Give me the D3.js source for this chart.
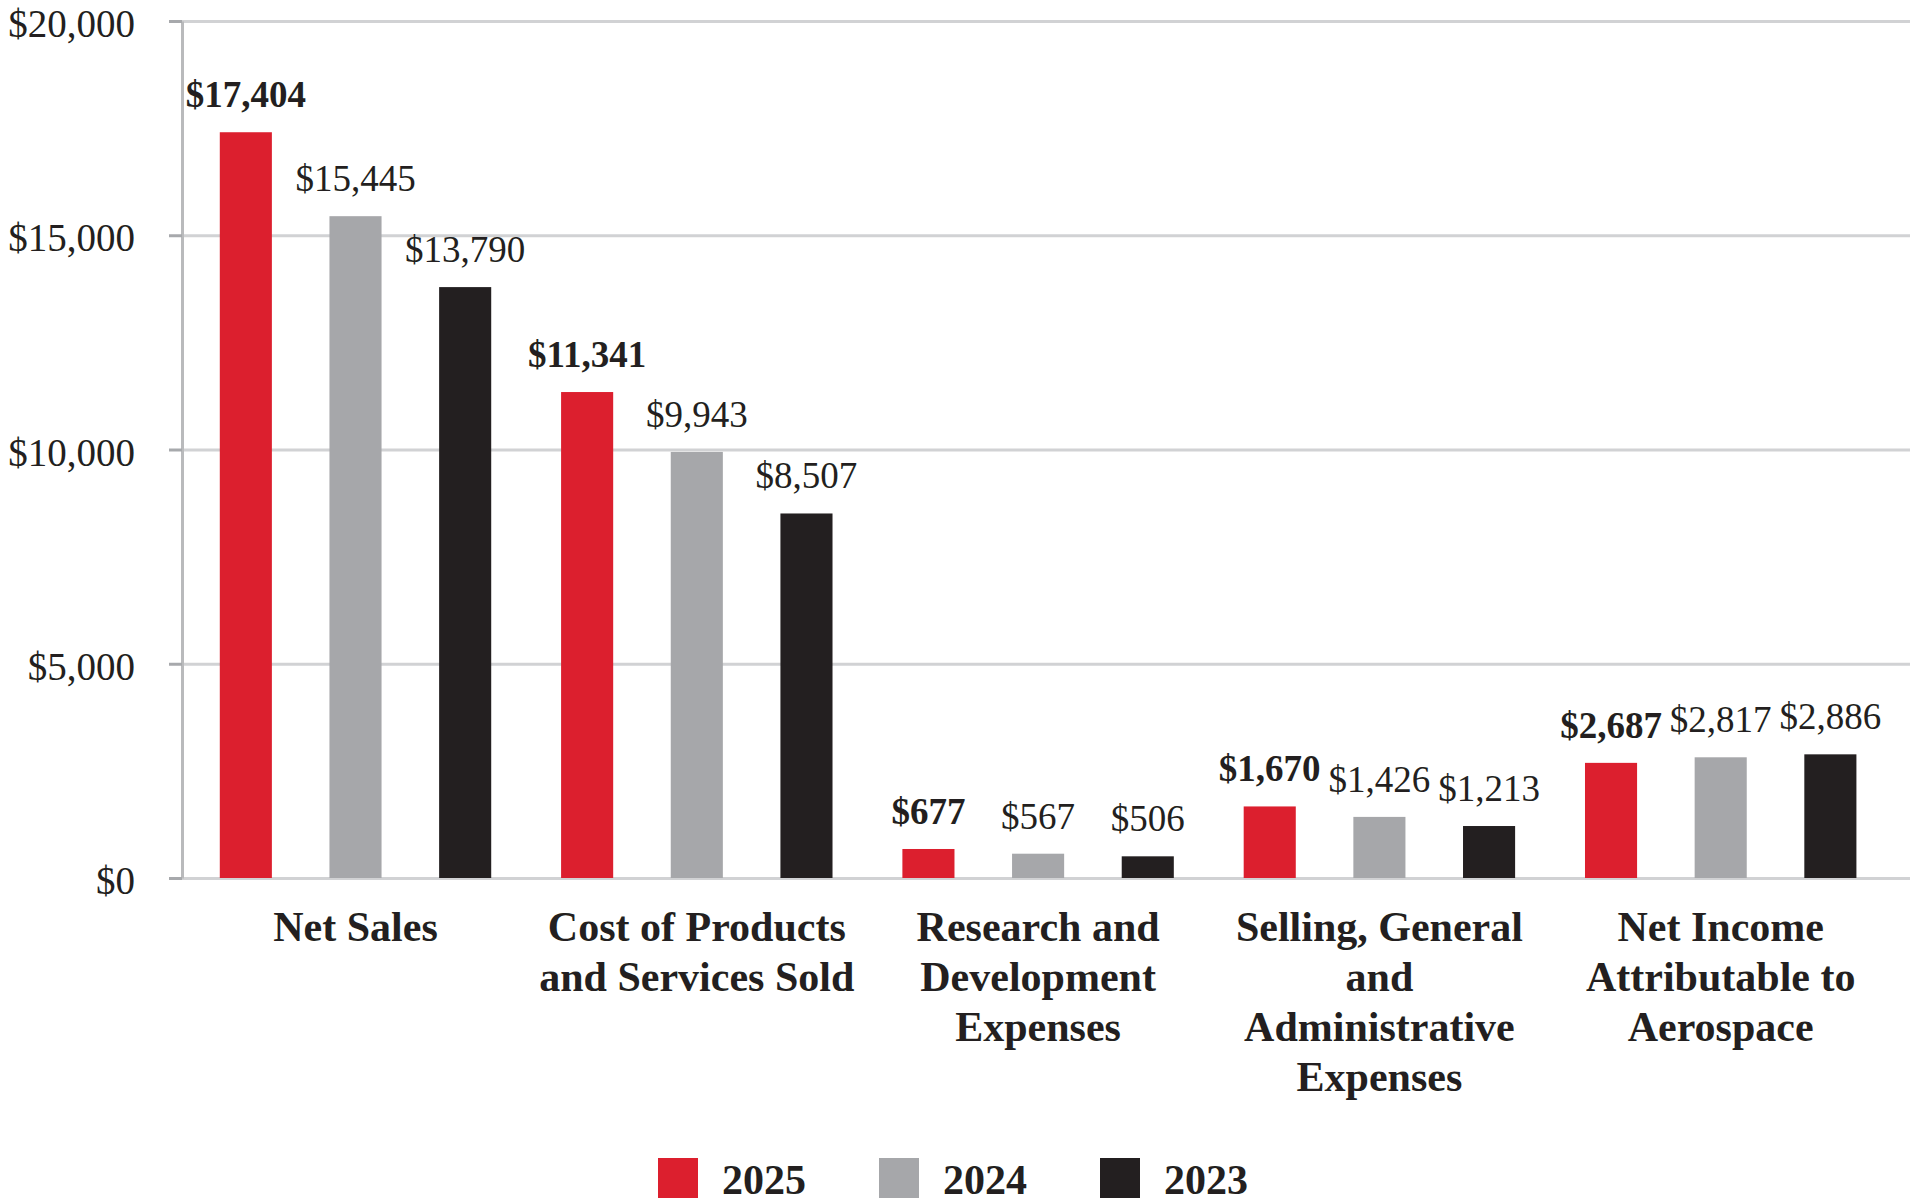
<!DOCTYPE html>
<html>
<head>
<meta charset="utf-8">
<script src="https://cdn.jsdelivr.net/npm/d3@7"></script>
<style>
	body { margin: 0; background: #fff; }
	svg { display: block; }
	text { font-family: "Liberation Serif", "Times New Roman", serif; fill: #231f20; }
</style>
</head>
<body>
<svg id="chart" width="1910" height="1202"></svg>
<script>
// chart data
const categories = ["Net Sales", "Cost of Products and Services Sold", "Research and Development Expenses", "Selling, General and Administrative Expenses", "Net Income Attributable to Aerospace"];
const categoryLines = [
	["Net Sales"],
	["Cost of Products", "and Services Sold"],
	["Research and", "Development", "Expenses"],
	["Selling, General", "and", "Administrative", "Expenses"],
	["Net Income", "Attributable to", "Aerospace"]
];
const years = ["2025", "2024", "2023"];
const values2025 = [17404, 11341, 677, 1670, 2687];
const values2024 = [15445, 9943, 567, 1426, 2817];
const values2023 = [13790, 8507, 506, 1213, 2886];
const yTicks = [0, 5000, 10000, 15000, 20000];

const colors = { "2025": "#dc1f2e", "2024": "#a6a7aa", "2023": "#231f20" };
const seriesValues = { "2025": values2025, "2024": values2024, "2023": values2023 };

const svg = d3.select("#chart");
const width = 1910;
const axisX = 182;

const x0 = d3.scaleBand().domain(categories).range([axisX, axisX + 5 * 341.3]).padding(0);
const x1 = d3.scaleBand().domain(years).range([9, 338]).paddingInner(0.525).paddingOuter(0.2625);
const y = d3.scaleLinear().domain([0, 20000]).range([878, 21]);

// gridlines
const grid = svg.append("g")
	.attr("transform", `translate(${axisX},0)`)
	.call(d3.axisLeft(y).tickValues(yTicks).tickSize(-(width - axisX)).tickFormat(""));
grid.select(".domain").remove();
grid.selectAll(".tick line").attr("stroke", "#d1d2d4").attr("stroke-width", 3);

// y axis
const yAxis = svg.append("g")
	.attr("transform", `translate(${axisX},0)`)
	.call(d3.axisLeft(y).tickValues(yTicks).tickSize(13).tickSizeOuter(0).tickPadding(34).tickFormat(d3.format("$,")));
yAxis.select(".domain").attr("stroke", "#b9babc").attr("stroke-width", 3);
yAxis.selectAll(".tick line").attr("stroke", "#a7a9ac").attr("stroke-width", 3);
yAxis.selectAll(".tick text")
	.attr("dy", "0.4em")
	.style("font-family", '"Liberation Serif", "Times New Roman", serif')
	.style("font-size", "39px")
	.attr("fill", "#231f20");

// bars
const rows = [];
categories.forEach((c, i) => {
	years.forEach((yr) => rows.push({ cat: c, year: yr, value: seriesValues[yr][i] }));
});

const groups = svg.append("g");
groups.selectAll("rect")
	.data(rows)
	.enter()
	.append("rect")
	.attr("x", (d) => x0(d.cat) + x1(d.year))
	.attr("y", (d) => y(d.value))
	.attr("width", x1.bandwidth())
	.attr("height", (d) => y(0) - y(d.value))
	.attr("fill", (d) => colors[d.year]);

// value labels
groups.selectAll(".val")
	.data(rows)
	.enter()
	.append("text")
	.attr("class", "val")
	.attr("x", (d) => x0(d.cat) + x1(d.year) + x1.bandwidth() / 2)
	.attr("y", (d) => y(d.value) - 25)
	.attr("text-anchor", "middle")
	.style("font-size", "37px")
	.style("font-weight", (d) => (d.year === "2025" ? "bold" : "normal"))
	.text((d) => d3.format("$,")(d.value));

// category labels
const catLabels = svg.append("g")
	.selectAll("text")
	.data(categories)
	.enter()
	.append("text")
	.attr("text-anchor", "middle")
	.attr("x", (d) => x0(d) + 9 + 329 / 2)
	.attr("y", 941)
	.style("font-size", "42px")
	.style("font-weight", "bold");
catLabels.each(function (d, i) {
	const t = d3.select(this);
	categoryLines[i].forEach((line, j) => {
		t.append("tspan")
			.attr("x", x0(d) + 9 + 329 / 2)
			.attr("dy", j === 0 ? 0 : 50)
			.text(line);
	});
});

// legend
const legend = svg.append("g")
	.selectAll("g")
	.data(years)
	.enter()
	.append("g")
	.attr("transform", (d, i) => `translate(${658 + i * 221}, 1158)`);
legend.append("rect")
	.attr("width", 40)
	.attr("height", 40)
	.attr("fill", (d) => colors[d]);
legend.append("text")
	.attr("x", 64)
	.attr("y", 36)
	.style("font-size", "42px")
	.style("font-weight", "bold")
	.text((d) => d);
</script>
</body>
</html>
